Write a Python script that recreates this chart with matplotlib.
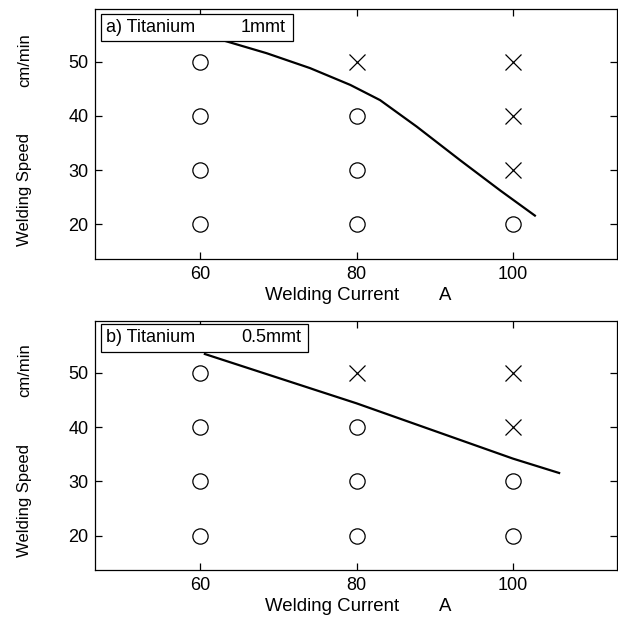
import matplotlib
matplotlib.use("Agg")
import matplotlib.pyplot as plt
from matplotlib.patches import Rectangle

plt.rcParams['font.family'] = ['Liberation Sans', 'DejaVu Sans']

# ---- data ----
xticks = [60, 80, 100]
yticks = [20, 30, 40, 50]

# panel a) Titanium 1mmt
a_ok_x = [60, 60, 60, 60, 80, 80, 80, 100]
a_ok_y = [20, 30, 40, 50, 20, 30, 40, 20]
a_ng_x = [80, 100, 100, 100]
a_ng_y = [50, 30, 40, 50]
a_line_x = [62.98, 68.5, 74.05, 79.2, 83.0, 87.7, 93.3, 98.4, 102.8]
a_line_y = [53.9, 51.55, 48.8, 45.7, 42.9, 38.0, 31.75, 26.2, 21.6]

# panel b) Titanium 0.5mmt
b_ok_x = [60, 60, 60, 60, 80, 80, 80, 100, 100]
b_ok_y = [20, 30, 40, 50, 20, 30, 40, 20, 30]
b_ng_x = [80, 100, 100]
b_ng_y = [50, 40, 50]
b_line_x = [60.6, 80.0, 100.0, 105.9]
b_line_y = [53.5, 44.4, 34.2, 31.55]

W, H = 618, 617
fig = plt.figure(figsize=(W / 100, H / 100), dpi=100)

def px_axes(left, top, right, bottom):
    return fig.add_axes([left / W, 1 - bottom / H, (right - left) / W, (bottom - top) / H])

FS_TICK = 13
FS_BOX = 13
FS_X = 13.4
FS_Y = 12

def setup(ax, title_left, title_right, box_right, box_top, box_bot, axtop, axbot):
    ax.set_xlim(46.6, 113.3)
    ax.set_ylim(13.65, 59.65)
    ax.set_xticks(xticks)
    ax.set_yticks(yticks)
    ax.tick_params(direction='in', length=5, width=0.9, top=True, right=True,
                   labelsize=FS_TICK, pad=5)
    for s in ax.spines.values():
        s.set_linewidth(0.9)
    axl, axr = 95.4, 617
    h = axbot - axtop
    x0 = (101 - axl) / (axr - axl)
    x1 = (box_right - axl) / (axr - axl)
    y1 = (axbot - box_top) / h
    y0 = (axbot - box_bot) / h
    ax.add_patch(Rectangle((x0, y0), x1 - x0, y1 - y0, transform=ax.transAxes,
                           facecolor='white', edgecolor='black', linewidth=0.9, zorder=5))
    ax.text((106 - axl) / (axr - axl), (y0 + y1) / 2, title_left, transform=ax.transAxes,
            ha='left', va='center', fontsize=FS_BOX, zorder=6)
    ax.text((box_right - 7 - axl) / (axr - axl), (y0 + y1) / 2, title_right, transform=ax.transAxes,
            ha='right', va='center', fontsize=FS_BOX, zorder=6)

def draw(ax, okx, oky, ngx, ngy, lx, ly):
    ax.plot(okx, oky, linestyle='none', marker='o', markersize=11, markerfacecolor='none',
            markeredgecolor='black', markeredgewidth=0.9)
    ax.plot(ngx, ngy, linestyle='none', marker='x', markersize=12,
            markeredgecolor='black', markeredgewidth=0.9)
    ax.plot(lx, ly, color='black', linewidth=1.6, zorder=4)

axa = px_axes(95.4, 9.3, 617, 258.7)
draw(axa, a_ok_x, a_ok_y, a_ng_x, a_ng_y, a_line_x, a_line_y)
setup(axa, 'a) Titanium', '1mmt', 293, 14, 40.7, 9.3, 258.7)

axb = px_axes(95.4, 320.7, 617, 570)
draw(axb, b_ok_x, b_ok_y, b_ng_x, b_ng_y, b_line_x, b_line_y)
setup(axb, 'b) Titanium', '0.5mmt', 308, 324, 352, 320.7, 570)

def ftext(x, y, s, fs, **kw):
    fig.text(x / W, 1 - y / H, s, fontsize=fs, **kw)

for off in (0, 310.5):
    ftext(25, 60 + off, 'cm/min', FS_Y, rotation=90, ha='center', va='center')
    ftext(25, 190 + off, 'Welding Speed', FS_Y, rotation=90, ha='center', va='center')
    ftext(332.5, 296 + off, 'Welding Current', FS_X, ha='center', va='center')
    ftext(445, 296 + off, 'A', FS_X, ha='center', va='center')

fig.savefig('out.png', dpi=100)
